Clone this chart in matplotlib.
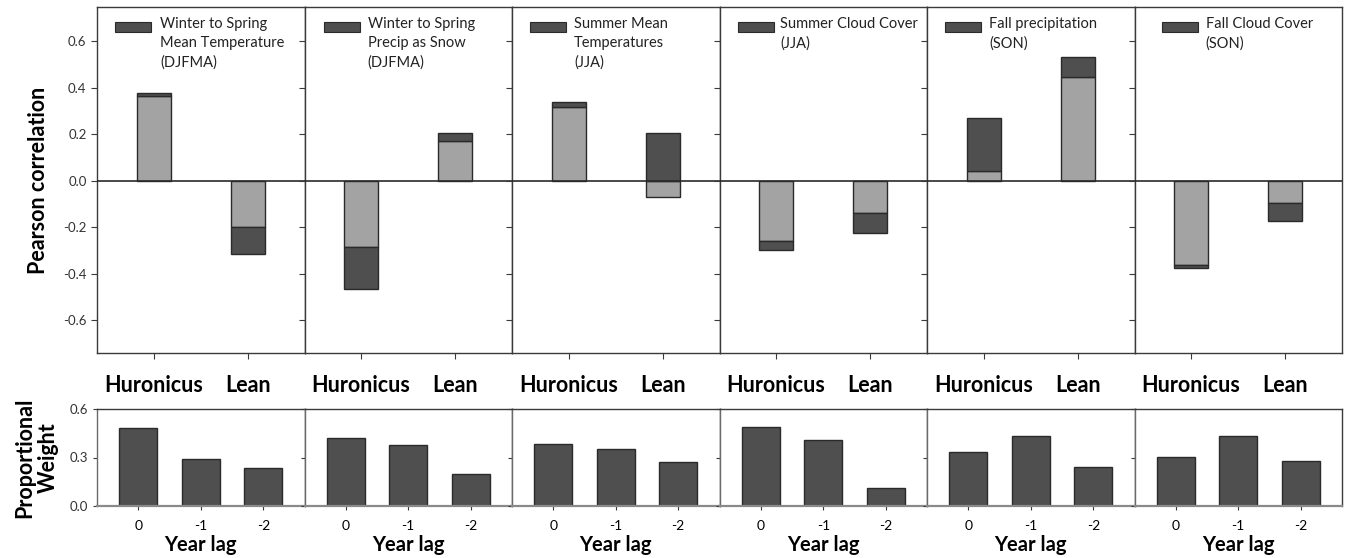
import matplotlib
matplotlib.use("Agg")
import matplotlib.pyplot as plt
from matplotlib.patches import Rectangle

plt.rcParams['font.family'] = ['Lato', 'DejaVu Sans']

# ---------------- data ----------------
panel_titles = [
    "Winter to Spring\nMean Temperature\n(DJFMA)",
    "Winter to Spring\nPrecip as Snow\n(DJFMA)",
    "Summer Mean\nTemperatures\n(JJA)",
    "Summer Cloud Cover\n(JJA)",
    "Fall precipitation\n(SON)",
    "Fall Cloud Cover\n(SON)",
]
species = ["Huronicus", "Lean"]
# light-grey component of each bar (per panel: Huronicus, Lean)
light_part = [
    [0.365, -0.198],
    [-0.284, 0.173],
    [0.317, -0.068],
    [-0.258, -0.140],
    [0.044, 0.446],
    [-0.362, -0.094],
]
# dark-grey component of each bar (per panel: Huronicus, Lean)
dark_part = [
    [0.015, -0.116],
    [-0.182, 0.031],
    [0.021, 0.205],
    [-0.040, -0.086],
    [0.227, 0.089],
    [-0.013, -0.078],
]
lag_labels = ["0", "-1", "-2"]
weights = [
    [0.480, 0.293, 0.234],
    [0.422, 0.379, 0.201],
    [0.381, 0.352, 0.273],
    [0.487, 0.410, 0.112],
    [0.335, 0.435, 0.242],
    [0.304, 0.436, 0.277],
]

# ---------------- layout ----------------
W, H = 1346, 558
fig = plt.figure(figsize=(W / 100, H / 100), dpi=100)

LIGHT = "#a3a3a3"
DARK = "#4f4f4f"
EDGE = "#2a2a2a"
SPINE = "#3a3a3a"

x0_px = 97.0
x1_px = 1342.0
pw = (x1_px - x0_px) / 6
top_y0, top_y1 = 7.0, 353.0
bot_y0, bot_y1 = 409.0, 506.0

# legend offsets (px from panel left): handle start, text start
leg_off = [(18, 63), (19, 63), (18, 62), (18, 61), (18, 62), (27, 71)]

def fy(py):
    return 1 - py / H

for i in range(6):
    left = (x0_px + i * pw) / W
    width = pw / W
    ax = fig.add_axes([left, fy(top_y1), width, (top_y1 - top_y0) / H])
    xs = list(range(len(species)))
    for j in xs:
        lv = light_part[i][j]
        dv = dark_part[i][j]
        ax.bar(j, lv, width=0.36, color=LIGHT, edgecolor=EDGE, linewidth=1.0, zorder=2)
        base = lv if (lv >= 0) == (dv >= 0) else 0
        ax.bar(j, dv, bottom=base, width=0.36, color=DARK, edgecolor=EDGE, linewidth=1.0, zorder=2)
    ax.axhline(0, color="#2a2a2a", lw=1.2, zorder=3)
    ax.set_xlim(-0.6, 1.6)
    ax.set_ylim(-0.74, 0.748)
    ax.set_yticks([-0.6, -0.4, -0.2, 0.0, 0.2, 0.4, 0.6])
    ax.set_xticks(xs)
    ax.set_xticklabels(species, fontsize=15.5, fontweight='bold')
    ax.tick_params(axis='x', direction='out', length=4, pad=12, color=SPINE)
    ax.tick_params(axis='y', direction='out', length=4, color=SPINE, labelsize=9.5,
                   labelcolor="#333333")
    if i == 0:
        ax.set_yticklabels([f"{v:.1f}" for v in [-0.6, -0.4, -0.2, 0.0, 0.2, 0.4, 0.6]])
        ax.set_ylabel("Pearson correlation", fontsize=15.5, fontweight='bold', labelpad=10)
    else:
        ax.set_yticklabels([])
    for s in ax.spines.values():
        s.set_color(SPINE)
        s.set_linewidth(1.0)
    # legend (manual, aligned with first line like the original)
    ho, to = leg_off[i]
    ph = (top_y1 - top_y0)
    hx = ho / pw
    hw = 36 / pw
    hy = 1 - (32 - top_y0) / ph
    hh = 10 / ph
    ax.add_patch(Rectangle((hx, hy), hw, hh, transform=ax.transAxes,
                           facecolor=DARK, edgecolor=EDGE, lw=0.8, clip_on=False, zorder=4))
    ax.text(to / pw, 1 - (17 - top_y0) / ph, panel_titles[i], transform=ax.transAxes,
            ha='left', va='top', fontsize=10.5, color="#222222", linespacing=1.45)

    # bottom panel
    bx = fig.add_axes([left, fy(bot_y1), width, (bot_y1 - bot_y0) / H])
    lx = list(range(len(lag_labels)))
    bx.bar(lx, weights[i], width=0.61, color=DARK, edgecolor=EDGE, linewidth=1.0, zorder=2)
    bx.set_xlim(-0.66, 2.66)
    bx.set_ylim(0, 0.6)
    bx.set_yticks([0.0, 0.3, 0.6])
    bx.set_xticks(lx)
    bx.set_xticklabels(lag_labels, fontsize=10)
    bx.tick_params(axis='x', direction='out', length=3, pad=7, color=SPINE)
    bx.tick_params(axis='y', direction='out', length=3, color=SPINE, labelsize=9.5,
                   labelcolor="#333333")
    bx.set_xlabel("Year lag", fontsize=14.5, fontweight='bold', labelpad=2)
    if i == 0:
        bx.set_yticklabels(["0.0", "0.3", "0.6"])
        bx.set_ylabel("Proportional\nWeight", fontsize=15.5, fontweight='bold',
                      labelpad=8, linespacing=1.15)
    else:
        bx.set_yticklabels([])
    for name, s in bx.spines.items():
        s.set_color(SPINE)
        s.set_linewidth(1.0)
    bx.spines['bottom'].set_color("#8a8a8a")
    bx.spines['bottom'].set_linewidth(1.6)
    bx.spines['left'].set_color("#6a6a6a")

fig.savefig("out.png", dpi=100)
